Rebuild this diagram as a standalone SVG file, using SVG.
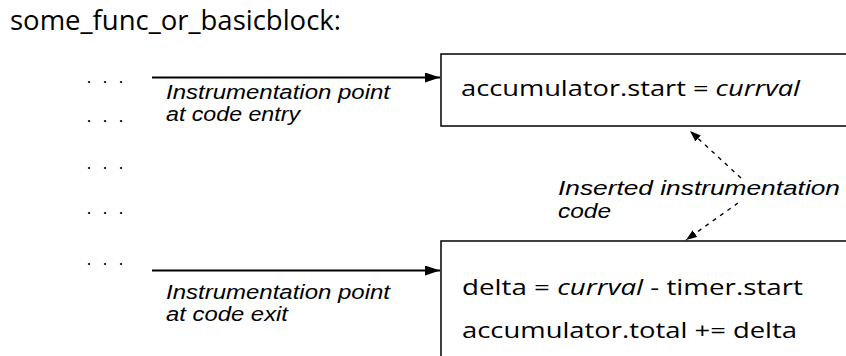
<svg xmlns="http://www.w3.org/2000/svg" width="846" height="356" viewBox="0 0 846 356">
<style>
.code{font-family:"Open Sans","Noto Sans",sans-serif;font-size:22px;fill:#000}
.ttl{font-family:"Open Sans","Noto Sans",sans-serif;font-size:27px;fill:#000}
.it{font-style:italic}
.lbl{font-family:"Liberation Sans",Arial,sans-serif;font-style:italic;font-size:20px;fill:#000}
.lbl2{font-family:"Liberation Sans",Arial,sans-serif;font-style:italic;font-size:21px;fill:#000}
.dots{font-family:"Liberation Sans",Arial,sans-serif;font-size:18px;fill:#000}
.box{fill:#fff;stroke:#000;stroke-width:1.5}
.arr{stroke:#000;stroke-width:2.2;fill:none}
.dash{stroke:#000;stroke-width:1.4;stroke-dasharray:4 5;fill:none}
</style>
<defs>
<marker id="ah" markerWidth="15" markerHeight="10" refX="15" refY="5" orient="auto" markerUnits="userSpaceOnUse"><path d="M0,0 L15,5 L0,10 z" fill="#000"/></marker>
<marker id="dh" markerWidth="11" markerHeight="8" refX="11" refY="4" orient="auto" markerUnits="userSpaceOnUse"><path d="M0,0 L11,4 L0,8 z" fill="#000"/></marker>
</defs>
<text id="title" class="ttl" x="10" y="30" textLength="331" lengthAdjust="spacingAndGlyphs">some_func_or_basicblock:</text>
<g id="dots">
<text class="dots" x="86.5 102.5 118.5" y="83.3">...</text>
<text class="dots" x="86.5 102.5 118.5" y="122.3">...</text>
<text class="dots" x="86.5 102.5 118.5" y="169.3">...</text>
<text class="dots" x="86.5 102.5 118.5" y="214.3">...</text>
<text class="dots" x="86.5 102.5 118.5" y="265.3">...</text>
</g>
<g id="box-entry">
<rect class="box" x="441" y="54" width="420" height="72"/>
<text class="code" x="461" y="96" textLength="339" lengthAdjust="spacingAndGlyphs">accumulator.start = <tspan class="it">currval</tspan></text>
</g>
<g id="box-exit">
<rect class="box" x="441" y="241" width="420" height="130"/>
<text class="code" x="462" y="295" textLength="341" lengthAdjust="spacingAndGlyphs">delta = <tspan class="it">currval</tspan> - timer.start</text>
<text class="code" x="462" y="338" textLength="335" lengthAdjust="spacingAndGlyphs">accumulator.total += delta</text>
</g>
<g id="label-entry">
<text class="lbl" x="166" y="99" textLength="224" lengthAdjust="spacingAndGlyphs">Instrumentation point</text>
<text class="lbl" x="166" y="121" textLength="134" lengthAdjust="spacingAndGlyphs">at code entry</text>
</g>
<g id="label-exit">
<text class="lbl" x="166" y="299" textLength="224" lengthAdjust="spacingAndGlyphs">Instrumentation point</text>
<text class="lbl" x="166" y="321" textLength="122" lengthAdjust="spacingAndGlyphs">at code exit</text>
</g>
<g id="label-inserted">
<text class="lbl2" x="558" y="195" textLength="282" lengthAdjust="spacingAndGlyphs">Inserted instrumentation</text>
<text class="lbl2" x="558" y="218" textLength="53" lengthAdjust="spacingAndGlyphs">code</text>
</g>
<g id="connectors">
<line class="arr" x1="152" y1="77.5" x2="440" y2="77.5" marker-end="url(#ah)"/>
<line class="arr" x1="152" y1="270.5" x2="440" y2="270.5" marker-end="url(#ah)"/>
<line class="dash" x1="741" y1="178" x2="690" y2="131" marker-end="url(#dh)"/>
<line class="dash" x1="738" y1="203" x2="686" y2="240" marker-end="url(#dh)"/>
</g>
</svg>
